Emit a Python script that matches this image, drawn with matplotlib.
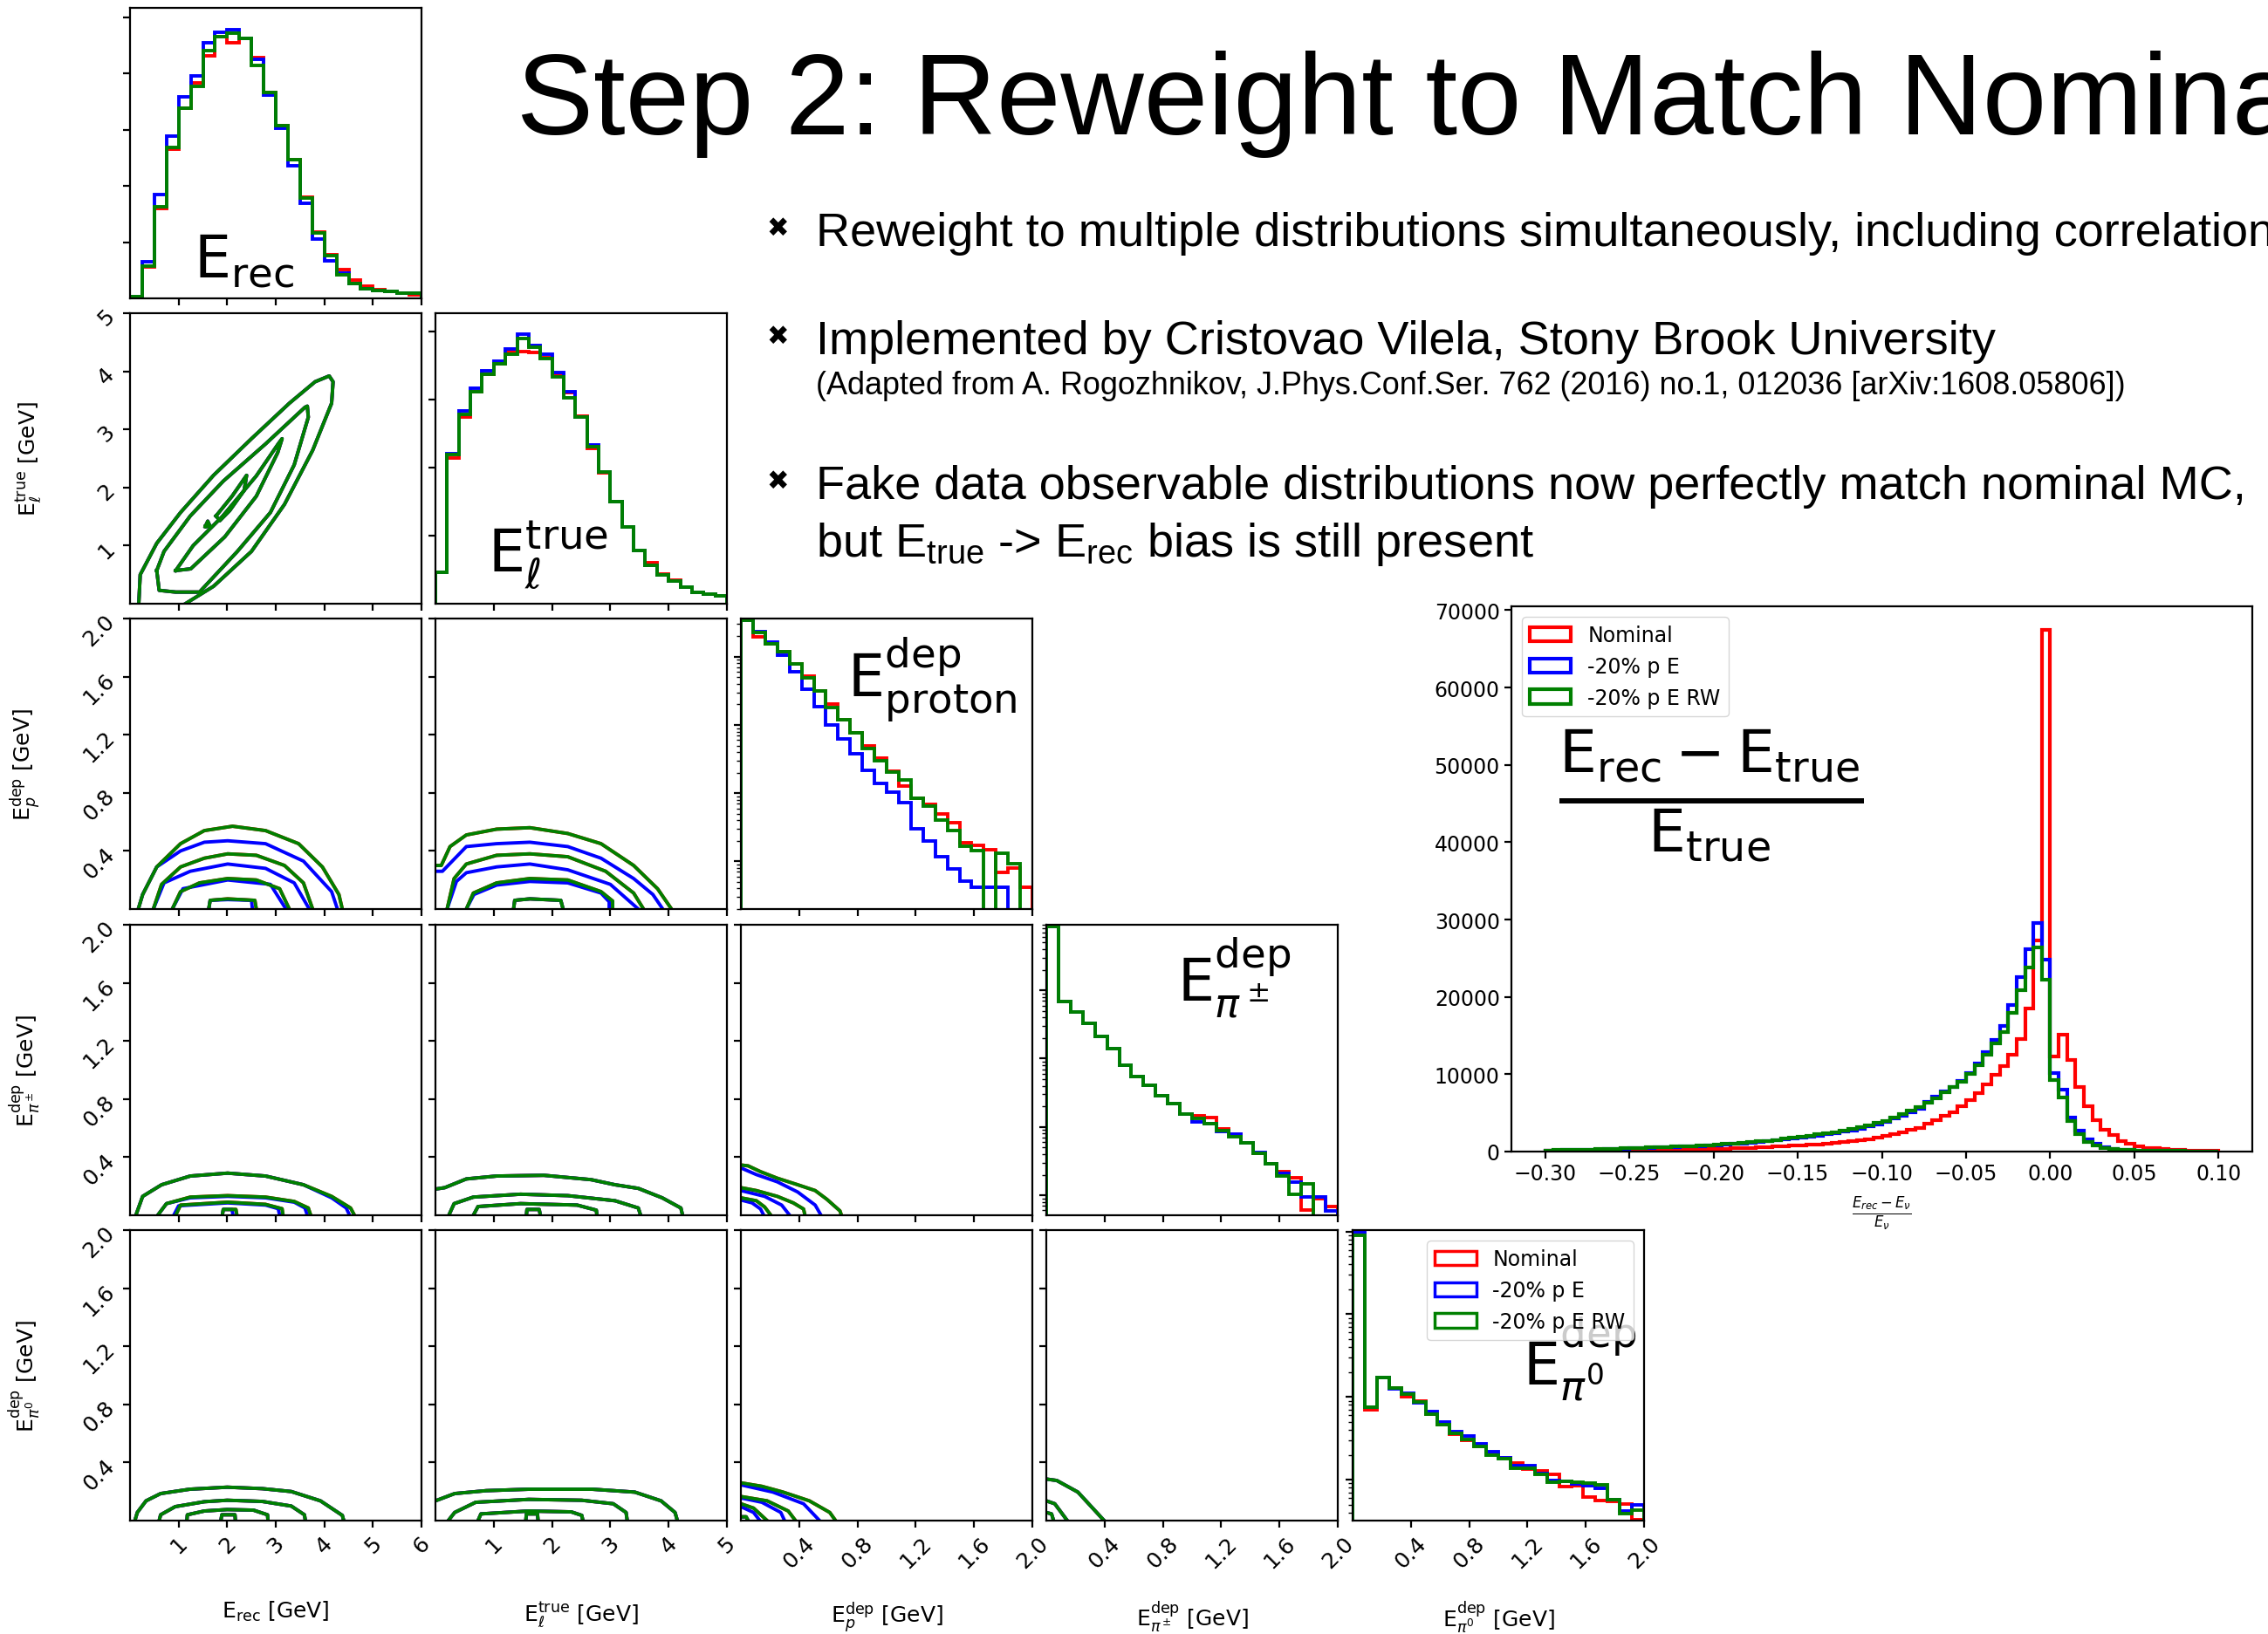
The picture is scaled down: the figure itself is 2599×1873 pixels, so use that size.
import numpy as np
import matplotlib.pyplot as plt
from matplotlib.patches import Patch
from matplotlib.ticker import NullFormatter, LogLocator

plt.rcParams['mathtext.fontset'] = 'dejavusans'

W, H = 2599, 1874
colors = ['red', 'blue', 'green']
names = ['Nominal', '-20% p E', '-20% p E RW']

# ---------------- 1D histograms on the diagonal ----------------
erec_edges = np.linspace(0, 6, 25)
erec_nom = [0.03, 0.56, 1.60, 2.65, 3.38, 3.83, 4.31, 4.65, 4.55, 4.63, 4.29, 3.66,
            3.08, 2.47, 1.80, 1.18, 0.78, 0.51, 0.32, 0.21, 0.15, 0.13, 0.10, 0.06]
erec_shift = [0.03, 0.65, 1.84, 2.88, 3.59, 3.96, 4.55, 4.74, 4.78, 4.63, 4.25, 3.61,
              3.02, 2.36, 1.70, 1.06, 0.66, 0.45, 0.26, 0.17, 0.14, 0.12, 0.10, 0.09]
erec_rw = [0.03, 0.57, 1.63, 2.69, 3.38, 3.78, 4.41, 4.65, 4.72, 4.63, 4.15, 3.66,
           3.08, 2.47, 1.79, 1.16, 0.76, 0.42, 0.26, 0.17, 0.14, 0.125, 0.10, 0.09]

etrue_edges = np.linspace(0, 5, 26)
etrue_nom = [0.46, 2.14, 2.74, 3.11, 3.37, 3.52, 3.70, 3.71, 3.69, 3.62, 3.37, 3.10, 2.76,
             2.28, 1.92, 1.50, 1.13, 0.78, 0.60, 0.44, 0.35, 0.25, 0.17, 0.14, 0.11]
etrue_shift = [0.46, 2.20, 2.84, 3.17, 3.42, 3.57, 3.74, 3.96, 3.80, 3.67, 3.40, 3.11, 2.74,
               2.34, 1.93, 1.50, 1.13, 0.78, 0.57, 0.42, 0.33, 0.25, 0.17, 0.14, 0.11]
etrue_rw = [0.46, 2.19, 2.78, 3.11, 3.37, 3.53, 3.67, 3.90, 3.77, 3.60, 3.34, 3.03, 2.74,
            2.31, 1.93, 1.50, 1.13, 0.78, 0.57, 0.42, 0.33, 0.25, 0.17, 0.14, 0.11]

dep_edges = np.linspace(0, 2, 25)
ep_nom = [34700, 19500, 15500, 11700, 7760, 5130, 3160, 2000, 1175, 776, 490, 324,
          209, 126, 83, 68, 49, 37, 19, 17.4, 14.8, 6.9, 7.9, 4.2]
ep_shift = [34700, 23400, 16600, 10500, 6030, 3390, 1860, 1000, 617, 380, 219, 138,
            102, 72, 30, 20, 11.7, 7.8, 5.1, 4.2, 4.2, 4.2, 0, 0]
ep_rw = [34700, 22900, 15500, 11700, 7760, 4900, 3160, 1780, 1175, 759, 447, 295,
         204, 158, 83, 65, 40, 28, 16.6, 14.5, 0, 13.2, 9.3, 0]

epi_nom = [85100, 6760, 4790, 3310, 2140, 1410, 813, 550, 407, 288, 219, 155,
           145, 138, 95, 79, 59, 41, 29, 22, 17.8, 6.0, 8.9, 6.8]
epi_shift = [85100, 6760, 4790, 3310, 2140, 1410, 813, 550, 407, 288, 219, 155,
             120, 112, 85, 79, 59, 42, 29, 21, 15.5, 9.5, 9.5, 5.9]
epi_rw = [85100, 6760, 4790, 3310, 2140, 1410, 813, 550, 407, 288, 219, 155,
          135, 112, 89, 72, 59, 41, 29, 19, 10.2, 14.5, 0, 0]

epi0_nom = [95500, 692, 1700, 1290, 1000, 891, 617, 468, 355, 302, 251, 204,
            186, 158, 135, 129, 115, 83, 85, 62, 56, 55, 51, 33]
epi0_shift = [100000, 759, 1700, 1260, 1100, 851, 661, 501, 380, 339, 269, 219,
              186, 148, 148, 120, 98, 95, 89, 85, 78, 58, 42, 50]
epi0_rw = [89100, 759, 1700, 1290, 1070, 871, 617, 468, 363, 309, 251, 200,
           178, 138, 138, 115, 93, 95, 93, 91, 87, 58, 39, 43]

# ---------------- 2D contour lines ----------------
erec_etrue_nom = [
    [(0.18, 0), (0.21, 0.5), (0.55, 1.04), (1.04, 1.57), (1.72, 2.21), (2.5, 2.84), (3.28, 3.45),
     (3.81, 3.82), (4.1, 3.92), (4.18, 3.82), (4.15, 3.45), (3.76, 2.64), (3.18, 1.71), (2.5, 0.9),
     (1.72, 0.3), (1.14, 0)],
    [(0.55, 0.57), (0.7, 0.9), (1.24, 1.51), (1.92, 2.11), (2.79, 2.75), (3.6, 3.38), (3.65, 3.4),
     (3.67, 3.21), (3.38, 2.39), (2.89, 1.57), (2.21, 0.9), (1.43, 0.2), (0.94, 0.2), (0.6, 0.23),
     (0.55, 0.57)],
    [(0.94, 0.57), (1.3, 1.0), (1.9, 1.5), (2.6, 2.2), (3.05, 2.75), (3.13, 2.84), (3.04, 2.6),
     (2.6, 1.85), (1.95, 1.15), (1.25, 0.6), (0.94, 0.57)],
    [(1.77, 1.51), (2.1, 1.85), (2.4, 2.21), (2.35, 1.95), (2.05, 1.6), (1.85, 1.43), (1.77, 1.51)],
    [(1.55, 1.33), (1.6, 1.42), (1.65, 1.33), (1.55, 1.33)],
]
erec_etrue_shift = erec_etrue_nom

erec_ep_nom = [
    [(0.17, 0), (0.26, 0.10), (0.55, 0.29), (1.04, 0.45), (1.53, 0.54), (2.11, 0.57), (2.79, 0.54),
     (3.47, 0.45), (3.96, 0.29), (4.3, 0.10), (4.37, 0)],
    [(0.48, 0), (0.65, 0.17), (1.04, 0.29), (1.53, 0.35), (2.01, 0.38), (2.6, 0.37), (3.18, 0.30),
     (3.57, 0.18), (3.76, 0)],
    [(0.87, 0), (1.04, 0.12), (1.43, 0.18), (2.01, 0.21), (2.6, 0.20), (3.08, 0.14), (3.28, 0)],
    [(1.62, 0), (1.65, 0.06), (2.01, 0.07), (2.57, 0.06), (2.6, 0)],
]
erec_ep_shift = [
    [(0.17, 0), (0.26, 0.10), (0.55, 0.29), (1.04, 0.40), (1.53, 0.46), (2.01, 0.47), (2.79, 0.45),
     (3.57, 0.33), (4.15, 0.12), (4.27, 0)],
    [(0.48, 0), (0.70, 0.18), (1.24, 0.26), (2.01, 0.31), (2.79, 0.28), (3.38, 0.18), (3.69, 0)],
    [(0.87, 0), (1.09, 0.14), (2.01, 0.20), (2.89, 0.17), (3.21, 0)],
    [(1.62, 0), (1.65, 0.06), (2.01, 0.065), (2.5, 0.06), (2.52, 0)],
]

etrue_ep_nom = [
    [(0, 0.30), (0.1, 0.30), (0.25, 0.43), (0.53, 0.51), (1.05, 0.55), (1.62, 0.56), (2.27, 0.52),
     (2.84, 0.45), (3.4, 0.30), (3.81, 0.14), (4.05, 0)],
    [(0.2, 0), (0.32, 0.21), (0.53, 0.31), (1.05, 0.37), (1.62, 0.38), (2.27, 0.36), (2.92, 0.26),
     (3.4, 0.11), (3.57, 0)],
    [(0.53, 0), (0.65, 0.11), (1.05, 0.18), (1.62, 0.21), (2.27, 0.20), (2.84, 0.12), (3.04, 0.055),
     (3.04, 0)],
    [(1.34, 0), (1.36, 0.06), (1.62, 0.07), (2.15, 0.06), (2.19, 0)],
]
etrue_ep_shift = [
    [(0, 0.26), (0.12, 0.26), (0.53, 0.43), (1.05, 0.45), (1.62, 0.46), (2.27, 0.43), (2.84, 0.35),
     (3.4, 0.21), (3.73, 0.10), (3.9, 0)],
    [(0.2, 0), (0.36, 0.19), (0.53, 0.25), (1.05, 0.29), (1.62, 0.31), (2.27, 0.27), (3.0, 0.17),
     (3.48, 0)],
    [(0.53, 0), (0.66, 0.10), (1.05, 0.165), (1.62, 0.19), (2.27, 0.18), (2.84, 0.11), (2.98, 0.05),
     (2.98, 0)],
    [(1.34, 0), (1.36, 0.06), (1.62, 0.07), (2.15, 0.06), (2.19, 0)],
]

erec_epi_nom = [
    [(0.12, 0), (0.26, 0.13), (0.65, 0.21), (1.24, 0.27), (2.01, 0.29), (2.79, 0.27), (3.57, 0.21),
     (4.15, 0.13), (4.54, 0.05), (4.62, 0)],
    [(0.57, 0), (0.75, 0.08), (1.24, 0.125), (2.01, 0.135), (2.79, 0.125), (3.38, 0.095), (3.67, 0.05),
     (3.72, 0)],
    [(0.94, 0), (1.04, 0.07), (2.01, 0.09), (2.79, 0.075), (3.13, 0.045), (3.15, 0)],
    [(1.9, 0), (1.92, 0.04), (2.18, 0.04), (2.2, 0)],
]
erec_epi_shift = [
    [(0.12, 0), (0.26, 0.13), (0.65, 0.21), (1.24, 0.27), (2.01, 0.29), (2.79, 0.27), (3.57, 0.21),
     (4.15, 0.12), (4.45, 0.05), (4.52, 0)],
    [(0.57, 0), (0.75, 0.08), (1.24, 0.12), (2.01, 0.13), (2.79, 0.12), (3.38, 0.09), (3.6, 0.05),
     (3.65, 0)],
    [(0.9, 0), (1.0, 0.065), (2.01, 0.085), (2.79, 0.07), (3.05, 0.045), (3.08, 0)],
    [(1.9, 0), (1.92, 0.04), (2.1, 0.04), (2.12, 0)],
]

etrue_epi_nom = [
    [(0, 0.18), (0.16, 0.19), (0.53, 0.25), (1.05, 0.27), (1.86, 0.275), (2.67, 0.245), (3.08, 0.21),
     (3.48, 0.185), (3.89, 0.12), (4.21, 0.05), (4.24, 0)],
    [(0.23, 0), (0.32, 0.08), (0.65, 0.125), (1.46, 0.145), (2.27, 0.135), (3.08, 0.1), (3.48, 0.05),
     (3.52, 0)],
    [(0.65, 0), (0.73, 0.06), (1.46, 0.08), (2.43, 0.07), (2.76, 0.035), (2.77, 0)],
    [(1.56, 0), (1.57, 0.04), (1.78, 0.04), (1.8, 0)],
]
etrue_epi_shift = etrue_epi_nom

ep_epi_nom = [
    [(0, 0.346), (0.05, 0.34), (0.135, 0.30), (0.25, 0.255), (0.39, 0.21), (0.51, 0.17), (0.59, 0.11),
     (0.68, 0.03), (0.69, 0)],
    [(0, 0.19), (0.106, 0.17), (0.25, 0.13), (0.36, 0.085), (0.43, 0.043), (0.44, 0)],
    [(0, 0.12), (0.106, 0.10), (0.163, 0.057), (0.206, 0)],
]
ep_epi_shift = [
    [(0, 0.326), (0.106, 0.28), (0.25, 0.23), (0.39, 0.16), (0.51, 0.07), (0.55, 0)],
    [(0, 0.17), (0.163, 0.13), (0.28, 0.07), (0.335, 0)],
    [(0, 0.105), (0.077, 0.085), (0.135, 0.043), (0.157, 0)],
]

erec_epi0_nom = [
    [(0.1, 0), (0.15, 0.056), (0.33, 0.136), (0.63, 0.186), (1.23, 0.216), (2.0, 0.23), (2.72, 0.22),
     (3.32, 0.2), (3.92, 0.136), (4.37, 0.036), (4.4, 0)],
    [(0.6, 0), (0.63, 0.04), (0.93, 0.096), (1.53, 0.13), (2.0, 0.14), (2.72, 0.132), (3.32, 0.1),
     (3.59, 0.04), (3.61, 0)],
    [(1.17, 0), (1.18, 0.04), (1.53, 0.066), (2.0, 0.076), (2.54, 0.072), (2.83, 0.04), (2.84, 0)],
    [(1.87, 0), (1.89, 0.04), (2.16, 0.04), (2.17, 0)],
]
erec_epi0_shift = erec_epi0_nom

etrue_epi0_nom = [
    [(0, 0.136), (0.33, 0.186), (0.87, 0.206), (1.6, 0.216), (2.69, 0.216), (3.42, 0.196), (3.87, 0.136),
     (4.11, 0.056), (4.15, 0)],
    [(0.22, 0), (0.33, 0.056), (0.69, 0.126), (1.6, 0.146), (2.51, 0.14), (3.05, 0.116), (3.27, 0.056),
     (3.29, 0)],
    [(0.73, 0), (0.78, 0.046), (1.6, 0.066), (2.33, 0.06), (2.51, 0.036), (2.53, 0)],
    [(1.55, 0), (1.56, 0.046), (1.75, 0.046), (1.76, 0)],
]
etrue_epi0_shift = etrue_epi0_nom

ep_epi0_nom = [
    [(0, 0.26), (0.144, 0.236), (0.29, 0.196), (0.47, 0.136), (0.61, 0.056), (0.65, 0)],
    [(0, 0.166), (0.18, 0.136), (0.325, 0.066), (0.375, 0)],
    [(0, 0.116), (0.087, 0.086), (0.18, 0)],
    [(0, 0.026), (0.036, 0.026), (0.05, 0)],
]
ep_epi0_shift = [
    [(0, 0.246), (0.22, 0.196), (0.43, 0.116), (0.54, 0)],
    [(0, 0.156), (0.144, 0.126), (0.274, 0.056), (0.30, 0)],
    [(0, 0.096), (0.087, 0.056), (0.13, 0)],
    [(0, 0.026), (0.036, 0.026), (0.05, 0)],
]

epi_epi0_nom = [
    [(0, 0.286), (0.072, 0.276), (0.217, 0.196), (0.397, 0)],
    [(0, 0.136), (0.058, 0.116), (0.144, 0)],
    [(0, 0.056), (0.036, 0.046), (0.05, 0)],
]
epi_epi0_shift = epi_epi0_nom

# ---------------- resolution histogram (inset) ----------------
res_edges = np.linspace(-0.30, 0.10, 81)
res_nom = [80, 90, 100, 110, 120, 130, 140, 150, 160, 170,
           180, 190, 200, 220, 240, 260, 280, 300, 320, 340,
           360, 390, 420, 450, 490, 530, 580, 630, 690, 750,
           820, 880, 950, 1030, 1120, 1220, 1330, 1450, 1600, 1780,
           2000, 2250, 2500, 2800, 3100, 3600, 4100, 4600, 5100, 5900,
           6700, 7600, 8700, 9900, 11000, 12500, 14600, 18500, 27300, 67500,
           12300, 15100, 11900, 8400, 5900, 4050, 2850, 2100, 1400, 1000,
           700, 500, 400, 300, 220, 190, 150, 110, 100, 80]
res_shift = [150, 160, 180, 200, 220, 240, 270, 300, 330, 370,
             400, 440, 480, 520, 560, 600, 640, 680, 730, 780,
             830, 900, 970, 1040, 1120, 1200, 1300, 1420, 1550, 1680,
             1820, 1950, 2080, 2220, 2380, 2550, 2750, 2980, 3250, 3550,
             3850, 4250, 4650, 5100, 5550, 6400, 7100, 7800, 8400, 9100,
             10200, 11400, 12900, 14400, 16200, 18900, 22600, 26200, 29600, 24800,
             10200, 8000, 4400, 2700, 1600, 1050, 600, 380, 250, 200,
             150, 120, 100, 80, 70, 60, 50, 40, 30, 30]
res_rw = [150, 170, 190, 210, 240, 260, 290, 320, 360, 400,
          440, 480, 520, 560, 600, 640, 680, 730, 780, 840,
          900, 970, 1050, 1120, 1200, 1300, 1400, 1520, 1650, 1800,
          1950, 2050, 2200, 2350, 2500, 2700, 2900, 3150, 3400, 3700,
          4000, 4400, 4850, 5250, 5700, 6300, 6900, 7700, 8400, 9000,
          10050, 11200, 12500, 14000, 15500, 17900, 20900, 23800, 26400, 22200,
          9200, 7000, 3900, 2200, 1200, 750, 500, 300, 220, 180,
          150, 120, 100, 80, 70, 60, 50, 40, 30, 30]

# ---------------- corner layout ----------------
var_range = [(0, 6), (0, 5), (0, 2), (0, 2), (0, 2)]
dep_ticks = [0.4, 0.8, 1.2, 1.6, 2.0]
var_ticks = [[1, 2, 3, 4, 5, 6], [1, 2, 3, 4, 5], dep_ticks, dep_ticks, dep_ticks]
var_ticklabels = [['1', '2', '3', '4', '5', '6'], ['1', '2', '3', '4', '5'],
                  ['0.4', '0.8', '1.2', '1.6', '2.0'], ['0.4', '0.8', '1.2', '1.6', '2.0'],
                  ['0.4', '0.8', '1.2', '1.6', '2.0']]
var_labels = [r'E$_\mathregular{rec}$ [GeV]', r'E$_\ell^\mathregular{true}$ [GeV]',
              r'E$_p^\mathregular{dep}$ [GeV]', r'E$_{\pi^\pm}^\mathregular{dep}$ [GeV]',
              r'E$_{\pi^0}^\mathregular{dep}$ [GeV]']
big_labels = [r'$\mathrm{E}_\mathrm{rec}$', r'$\mathrm{E}_\ell^\mathrm{true}$',
              r'$\mathrm{E}_\mathrm{proton}^\mathrm{dep}$', r'$\mathrm{E}_{\pi^\pm}^\mathrm{dep}$',
              r'$\mathrm{E}_{\pi^0}^\mathrm{dep}$']
big_pos = [(0.22, 0.075), (0.18, 0.11), (0.365, 0.73), (0.45, 0.74), (0.585, 0.47)]

diag = [
    (erec_edges, [erec_nom, erec_shift, erec_rw], False, (0, 5.17), [1, 2, 3, 4, 5]),
    (etrue_edges, [etrue_nom, etrue_shift, etrue_rw], False, (0, 4.27), [1, 2, 3, 4]),
    (dep_edges, [ep_nom, ep_shift, ep_rw], True, (2.0, 36300), None),
    (dep_edges, [epi_nom, epi_shift, epi_rw], True, (5.1, 91200), None),
    (dep_edges, [epi0_nom, epi0_shift, epi0_rw], True, (32, 104000), None),
]
offdiag = {
    (1, 0): (erec_etrue_nom, erec_etrue_shift),
    (2, 0): (erec_ep_nom, erec_ep_shift),
    (2, 1): (etrue_ep_nom, etrue_ep_shift),
    (3, 0): (erec_epi_nom, erec_epi_shift),
    (3, 1): (etrue_epi_nom, etrue_epi_shift),
    (3, 2): (ep_epi_nom, ep_epi_shift),
    (4, 0): (erec_epi0_nom, erec_epi0_shift),
    (4, 1): (etrue_epi0_nom, etrue_epi0_shift),
    (4, 2): (ep_epi0_nom, ep_epi0_shift),
    (4, 3): (epi_epi0_nom, epi_epi0_shift),
}

fig = plt.figure(figsize=(W / 100, H / 100), dpi=100)


def px_axes(left, top, width, height):
    return fig.add_axes([left / W, 1 - (top + height) / H, width / W, height / H])


col_left = [149, 499, 849, 1199, 1550]
row_top = [10, 360, 710, 1061, 1411]
lw_data = 2.8

for i in range(5):
    for j in range(i + 1):
        ax = px_axes(col_left[j], row_top[i], 334, 333)
        for s in ax.spines.values():
            s.set_linewidth(1.6)
        ax.tick_params(labelsize=18, width=1.6, length=6)
        ax.tick_params(which='minor', width=1.0, length=3.5)
        if i == j:
            edges, series, logy, ylim, yt = diag[i]
            if logy:
                ax.set_yscale('log')
            for vals, c in zip(series, colors):
                ax.stairs(vals, edges, color=c, lw=lw_data)
            ax.set_ylim(ylim)
            if logy:
                ax.yaxis.set_major_locator(LogLocator(base=10, numticks=20))
                ax.yaxis.set_minor_locator(LogLocator(base=10, subs=np.arange(2, 10), numticks=100))
                ax.yaxis.set_minor_formatter(NullFormatter())
            else:
                ax.set_yticks(yt)
            ax.yaxis.set_major_formatter(NullFormatter())
            bx, by = big_pos[i]
            ax.text(bx, by, big_labels[i], transform=ax.transAxes, fontsize=48,
                    ha='left', va='baseline')
        else:
            nom, shift = offdiag[(i, j)]
            for lines, c in zip([nom, shift, nom], colors):
                for line in lines:
                    xs = [p[0] for p in line]
                    ys = [p[1] for p in line]
                    ax.plot(xs, ys, color=c, lw=lw_data)
            ax.set_ylim(var_range[i])
            ax.set_yticks(var_ticks[i])
            if j == 0:
                ax.set_yticklabels(var_ticklabels[i], rotation=45)
                ax.set_ylabel(var_labels[i], fontsize=18)
                ax.yaxis.set_label_coords(-0.30, 0.5)
            else:
                ax.set_yticklabels([])
        ax.set_xlim(var_range[j])
        ax.set_xticks(var_ticks[j])
        if i == 4:
            ax.set_xticklabels(var_ticklabels[j], rotation=45)
            ax.set_xlabel(var_labels[j], fontsize=18)
            ax.xaxis.set_label_coords(0.5, -0.27)
        else:
            ax.set_xticklabels([])
        if i == 4 and j == 4:
            handles = [Patch(facecolor='none', edgecolor=c, lw=2.5) for c in colors]
            ax.legend(handles, names, loc='upper right', fontsize=17, framealpha=0.8)

# ---------------- inset ----------------
axr = px_axes(1732, 696, 849, 625)
for vals, c in zip([res_nom, res_shift, res_rw], colors):
    axr.stairs(vals, res_edges, color=c, lw=3)
axr.set_xlim(-0.32, 0.12)
axr.set_ylim(0, 70500)
axr.set_xticks([-0.30, -0.25, -0.20, -0.15, -0.10, -0.05, 0.0, 0.05, 0.10])
axr.set_yticks(range(0, 70001, 10000))
for s in axr.spines.values():
    s.set_linewidth(1.6)
axr.tick_params(labelsize=17, width=1.6, length=6)
axr.set_xlabel(r'$\frac{E_{rec}-E_{\nu}}{E_{\nu}}$', fontsize=17, labelpad=8)
handles = [Patch(facecolor='none', edgecolor=c, lw=3) for c in colors]
axr.legend(handles, names, loc='upper left', fontsize=17, framealpha=0.8)
axr.text(0.27, 0.655, r'$\frac{\mathrm{E}_\mathrm{rec} - \mathrm{E}_\mathrm{true}}{\mathrm{E}_\mathrm{true}}$',
         transform=axr.transAxes, fontsize=70, ha='center', va='center')

# ---------------- slide text ----------------
sans = 'Liberation Sans'
fig.text(592 / W, 1 - 154 / H, 'Step 2: Reweight to Match Nominal', fontsize=95,
         family=sans, va='baseline')
bullets = [
    (282, 'Reweight to multiple distributions simultaneously, including correlations'),
    (406, 'Implemented by Cristovao Vilela, Stony Brook University'),
    (572, 'Fake data observable distributions now perfectly match nominal MC,'),
]
for yb, txt in bullets:
    fig.text(891 / W, 1 - (yb - 20) / H, '\u2716', fontsize=22, family='DejaVu Sans',
             ha='center', va='center')
    fig.text(935 / W, 1 - yb / H, txt, fontsize=39, family=sans, va='baseline')
fig.text(935 / W, 1 - 452 / H,
         '(Adapted from A. Rogozhnikov, J.Phys.Conf.Ser. 762 (2016) no.1, 012036 [arXiv:1608.05806])',
         fontsize=25.9, family=sans, va='baseline')
fig.text(935 / W, 1 - 638 / H, r'but E$_\mathregular{true}$ -> E$_\mathregular{rec}$ bias is still present',
         fontsize=39, family=sans, va='baseline')

fig.savefig('out.png', dpi=100)
